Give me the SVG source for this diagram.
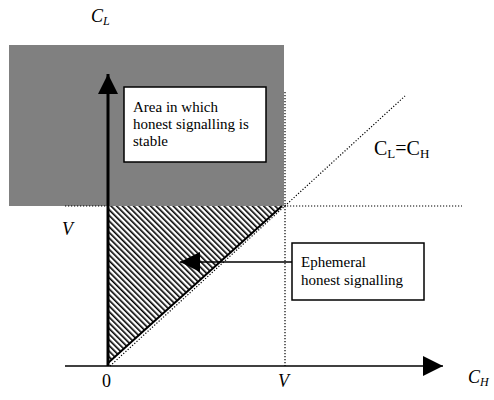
<svg xmlns="http://www.w3.org/2000/svg" width="494" height="400" viewBox="0 0 494 400">
<defs>
<pattern id="hatch" patternUnits="userSpaceOnUse" width="4" height="4" patternTransform="rotate(-45)">
<rect width="4" height="4" fill="#fff"/>
<rect x="0" y="0" width="1.6" height="4" fill="#000"/>
</pattern>
<marker id="ah" viewBox="0 0 20 20" refX="20" refY="10" markerWidth="20" markerHeight="20" markerUnits="userSpaceOnUse" orient="auto">
<path d="M0,0 L20,10 L0,20 Z" fill="#000"/>
</marker>
</defs>
<style>
.dot{stroke:#000;stroke-width:1.2;stroke-dasharray:1.2 1.8;fill:none}
.box{fill:#fff;stroke:#000;stroke-width:1.5}
text{font-family:'Liberation Serif','Times New Roman',serif;fill:#000}
.t{font-size:15px}
.it{font-style:italic;font-size:18px}
</style>
<g id="stable-region">
<rect x="9" y="45" width="275" height="161" fill="#808080"/>
</g>
<g id="ephemeral-region">
<polygon points="108,206 282,206 108,364" fill="url(#hatch)"/>
</g>
<g id="connectors">
<line class="dot" x1="65" y1="206" x2="108" y2="206"/>
<line class="dot" x1="284" y1="206" x2="462" y2="206"/>
<line class="dot" x1="285" y1="92" x2="285" y2="366"/>
<line class="dot" x1="110" y1="366" x2="405" y2="96"/>
<line x1="108" y1="363" x2="282" y2="206" stroke="#000" stroke-width="2"/>
<line x1="108" y1="366" x2="108" y2="74" stroke="#000" stroke-width="3" marker-end="url(#ah)"/>
<line x1="65" y1="366" x2="443" y2="366" stroke="#000" stroke-width="1.5" marker-end="url(#ah)"/>
<line x1="292" y1="262" x2="180" y2="262" stroke="#000" stroke-width="1.5" marker-end="url(#ah)"/>
</g>
<g id="stable-label">
<rect class="box" x="124" y="87" width="142" height="75"/>
<text class="t" x="133" y="112">Area in which</text>
<text class="t" x="133" y="129">honest signalling is</text>
<text class="t" x="133" y="146">stable</text>
</g>
<g id="ephemeral-label">
<rect class="box" x="292" y="243" width="132" height="57"/>
<text class="t" x="301" y="267">Ephemeral</text>
<text class="t" x="301" y="285">honest signalling</text>
</g>
<g id="axis-labels">
<text class="it" x="91" y="22">C<tspan font-size="12" dy="3">L</tspan></text>
<text class="it" x="468" y="383">C<tspan font-size="12" dy="3">H</tspan></text>
<text class="it" x="62" y="235">V</text>
<text class="it" x="278" y="387">V</text>
<text class="t" x="102" y="387" style="font-size:18px">0</text>
<text class="t" x="374" y="155" style="font-size:20px">C<tspan style="font-size:13px" dy="3">L</tspan><tspan dy="-3">=C</tspan><tspan style="font-size:13px" dy="3">H</tspan></text>
</g>
</svg>
